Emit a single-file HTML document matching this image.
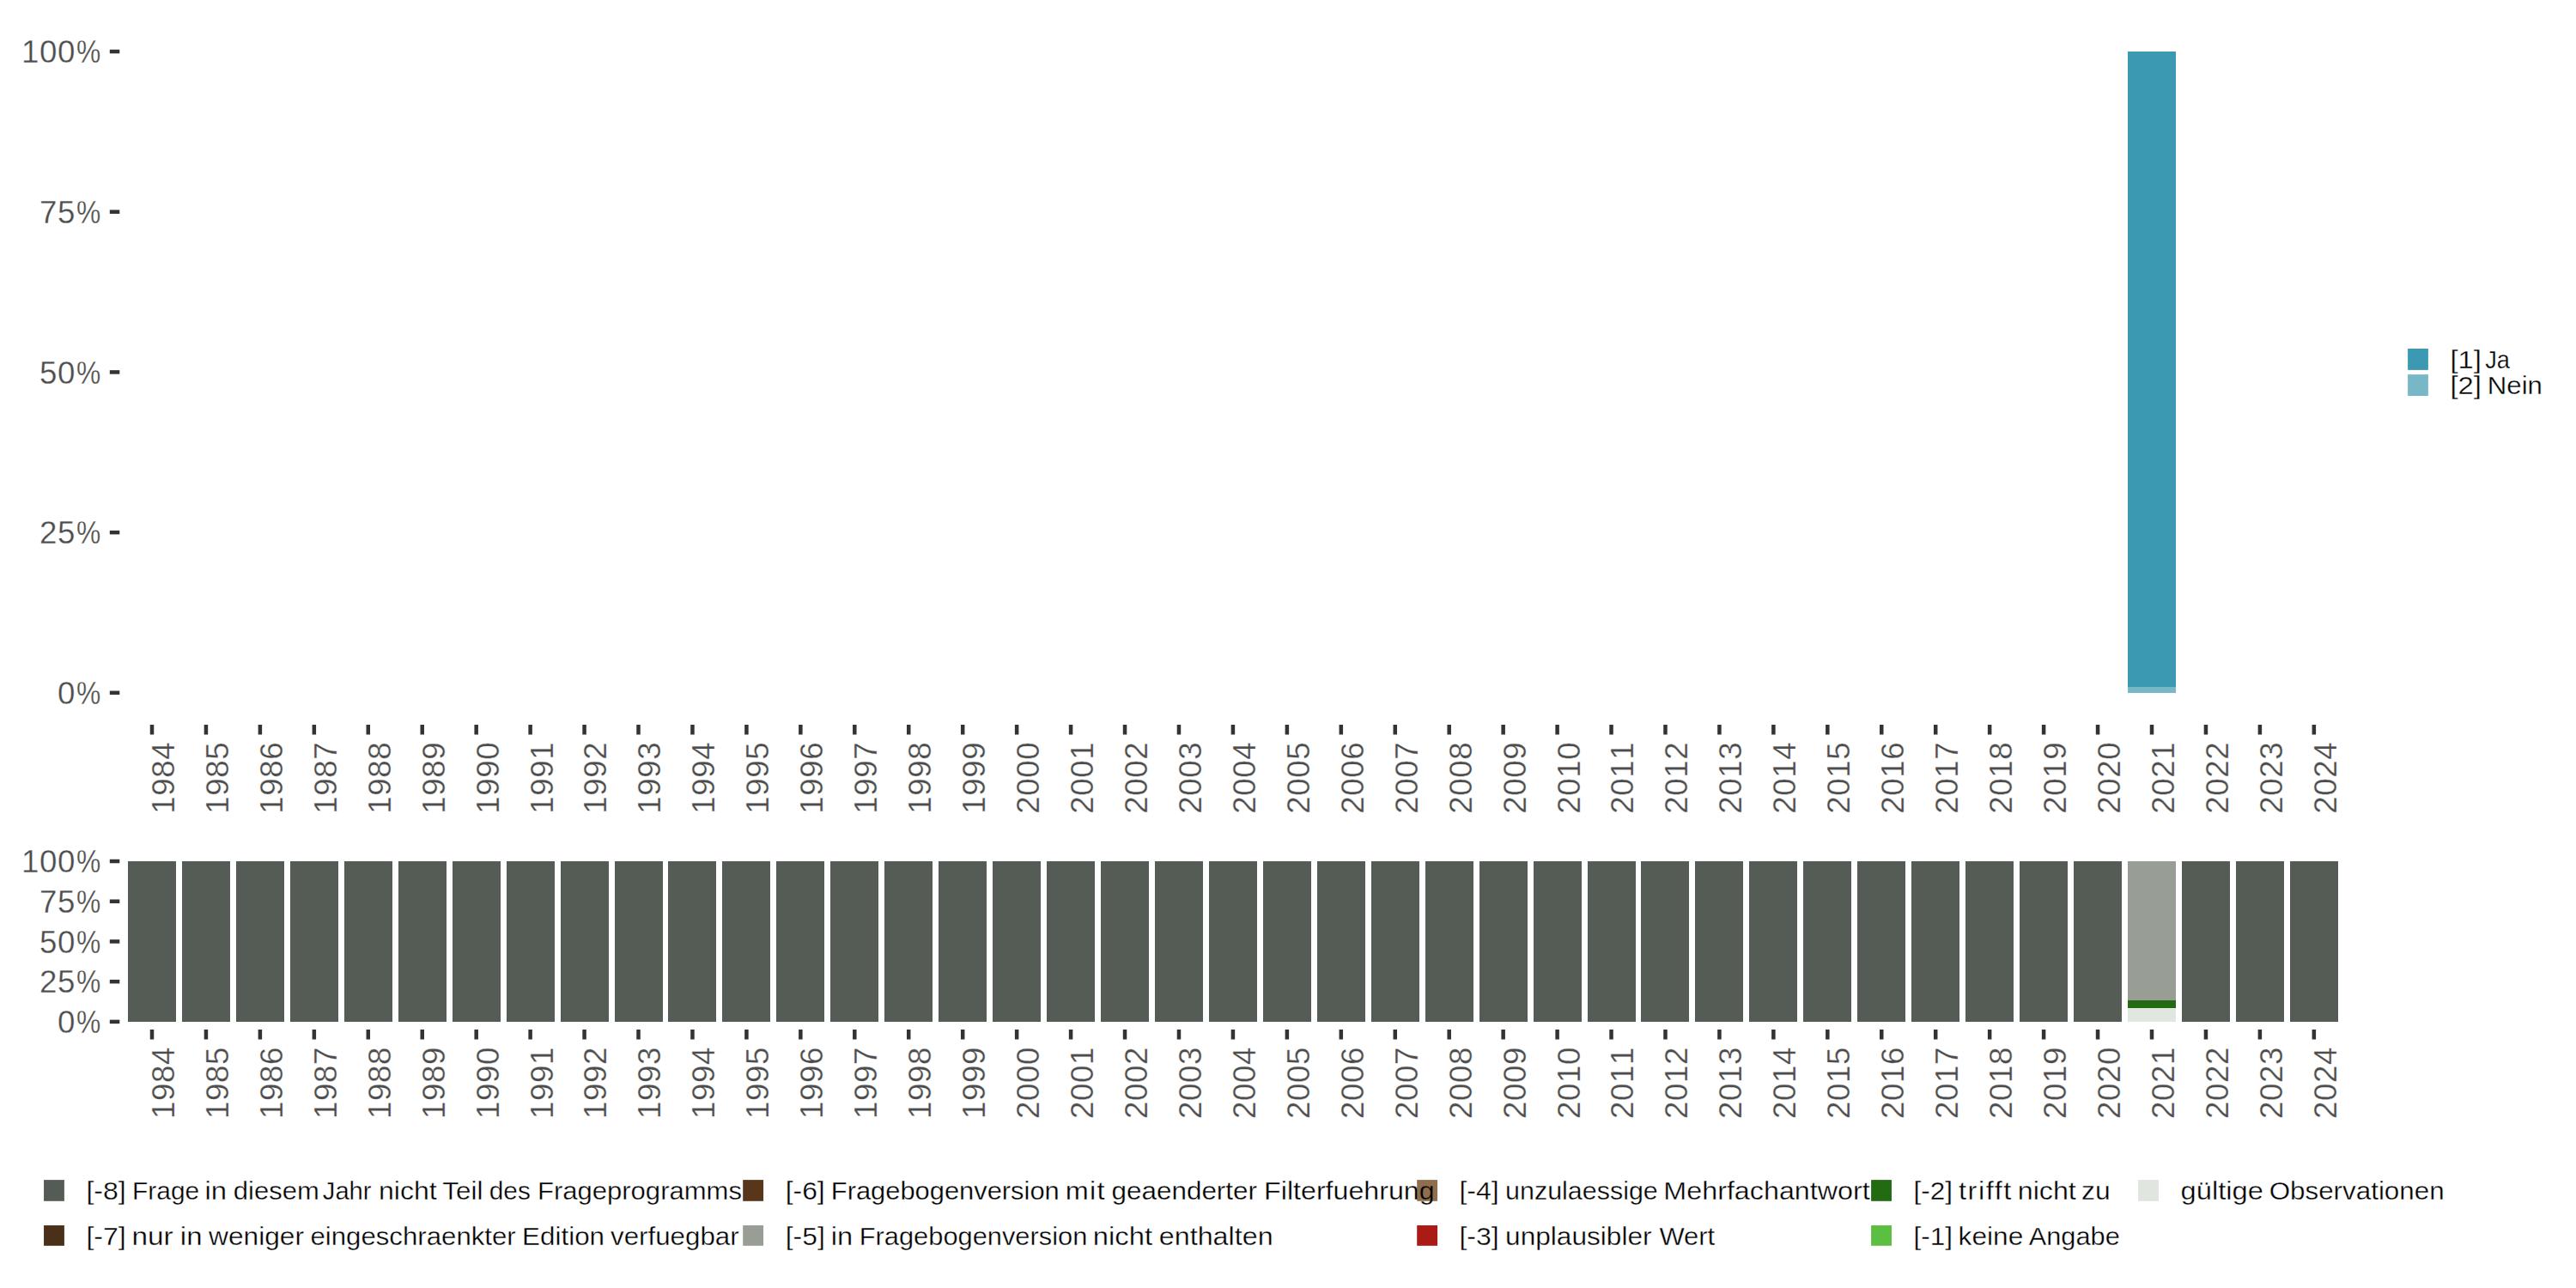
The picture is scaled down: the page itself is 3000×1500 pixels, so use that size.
<!DOCTYPE html>
<html lang="de">
<head>
<meta charset="utf-8">
<title>Chart</title>
<style>
html,body{margin:0;padding:0;background:#fff;}
body{width:3000px;height:1500px;overflow:hidden;}
svg{display:block;}
text{font-family:"Liberation Sans", sans-serif;}
.ax{font-size:36.67px;fill:#4D4D4D;stroke:#ffffff;stroke-width:0.3px;}
.lg{font-size:29.8px;fill:#000000;stroke:#ffffff;stroke-width:0.35px;}
</style>
</head>
<body>
<svg width="3000" height="1500" viewBox="0 0 3000 1500">
<rect x="0" y="0" width="3000" height="1500" fill="#ffffff"/>
<defs><pattern id="bgp" patternUnits="userSpaceOnUse" x="0" y="0" width="3000" height="1500"><rect x="0" y="0" width="3000" height="1500" fill="#ffffff"/><rect x="1650.2" y="1374.1" width="23.85" height="24.7" fill="#8F6E4D"/></pattern></defs>
<g id="top-bars" shape-rendering="crispEdges">
<rect x="2478.00" y="60.00" width="56.00" height="740.00" fill="#3B9AB2"/>
<rect x="2478.00" y="800.00" width="56.00" height="6.80" fill="#78B7C5"/>
</g>
<g id="top-yaxis">
<rect x="127.8" y="57.75" width="11.5" height="4.5" fill="#333333"/>
<text class="ax" y="73.10"><tspan x="25.06 46.04 67.02">100</tspan><tspan x="88.95" textLength="28.3" lengthAdjust="spacingAndGlyphs">%</tspan></text>
<rect x="127.8" y="244.45" width="11.5" height="4.5" fill="#333333"/>
<text class="ax" y="259.80"><tspan x="46.04 67.02">75</tspan><tspan x="88.95" textLength="28.3" lengthAdjust="spacingAndGlyphs">%</tspan></text>
<rect x="127.8" y="431.15" width="11.5" height="4.5" fill="#333333"/>
<text class="ax" y="446.50"><tspan x="46.04 67.02">50</tspan><tspan x="88.95" textLength="28.3" lengthAdjust="spacingAndGlyphs">%</tspan></text>
<rect x="127.8" y="617.85" width="11.5" height="4.5" fill="#333333"/>
<text class="ax" y="633.20"><tspan x="46.04 67.02">25</tspan><tspan x="88.95" textLength="28.3" lengthAdjust="spacingAndGlyphs">%</tspan></text>
<rect x="127.8" y="804.55" width="11.5" height="4.5" fill="#333333"/>
<text class="ax" y="819.90"><tspan x="67.02">0</tspan><tspan x="88.95" textLength="28.3" lengthAdjust="spacingAndGlyphs">%</tspan></text>
</g>
<g id="top-xaxis">
<rect x="174.75" y="844.00" width="4.5" height="11.5" fill="#333333"/>
<text class="ax" transform="translate(202.90,864.10) rotate(-90)" x="-83.62 -62.64 -41.66 -20.68">1984</text>
<rect x="237.70" y="844.00" width="4.5" height="11.5" fill="#333333"/>
<text class="ax" transform="translate(265.85,864.10) rotate(-90)" x="-83.62 -62.64 -41.66 -20.68">1985</text>
<rect x="300.64" y="844.00" width="4.5" height="11.5" fill="#333333"/>
<text class="ax" transform="translate(328.79,864.10) rotate(-90)" x="-83.62 -62.64 -41.66 -20.68">1986</text>
<rect x="363.59" y="844.00" width="4.5" height="11.5" fill="#333333"/>
<text class="ax" transform="translate(391.74,864.10) rotate(-90)" x="-83.62 -62.64 -41.66 -20.68">1987</text>
<rect x="426.53" y="844.00" width="4.5" height="11.5" fill="#333333"/>
<text class="ax" transform="translate(454.68,864.10) rotate(-90)" x="-83.62 -62.64 -41.66 -20.68">1988</text>
<rect x="489.48" y="844.00" width="4.5" height="11.5" fill="#333333"/>
<text class="ax" transform="translate(517.63,864.10) rotate(-90)" x="-83.62 -62.64 -41.66 -20.68">1989</text>
<rect x="552.43" y="844.00" width="4.5" height="11.5" fill="#333333"/>
<text class="ax" transform="translate(580.58,864.10) rotate(-90)" x="-83.62 -62.64 -41.66 -20.68">1990</text>
<rect x="615.37" y="844.00" width="4.5" height="11.5" fill="#333333"/>
<text class="ax" transform="translate(643.52,864.10) rotate(-90)" x="-83.62 -62.64 -41.66 -20.68">1991</text>
<rect x="678.32" y="844.00" width="4.5" height="11.5" fill="#333333"/>
<text class="ax" transform="translate(706.47,864.10) rotate(-90)" x="-83.62 -62.64 -41.66 -20.68">1992</text>
<rect x="741.26" y="844.00" width="4.5" height="11.5" fill="#333333"/>
<text class="ax" transform="translate(769.41,864.10) rotate(-90)" x="-83.62 -62.64 -41.66 -20.68">1993</text>
<rect x="804.21" y="844.00" width="4.5" height="11.5" fill="#333333"/>
<text class="ax" transform="translate(832.36,864.10) rotate(-90)" x="-83.62 -62.64 -41.66 -20.68">1994</text>
<rect x="867.16" y="844.00" width="4.5" height="11.5" fill="#333333"/>
<text class="ax" transform="translate(895.31,864.10) rotate(-90)" x="-83.62 -62.64 -41.66 -20.68">1995</text>
<rect x="930.10" y="844.00" width="4.5" height="11.5" fill="#333333"/>
<text class="ax" transform="translate(958.25,864.10) rotate(-90)" x="-83.62 -62.64 -41.66 -20.68">1996</text>
<rect x="993.05" y="844.00" width="4.5" height="11.5" fill="#333333"/>
<text class="ax" transform="translate(1021.20,864.10) rotate(-90)" x="-83.62 -62.64 -41.66 -20.68">1997</text>
<rect x="1055.99" y="844.00" width="4.5" height="11.5" fill="#333333"/>
<text class="ax" transform="translate(1084.14,864.10) rotate(-90)" x="-83.62 -62.64 -41.66 -20.68">1998</text>
<rect x="1118.94" y="844.00" width="4.5" height="11.5" fill="#333333"/>
<text class="ax" transform="translate(1147.09,864.10) rotate(-90)" x="-83.62 -62.64 -41.66 -20.68">1999</text>
<rect x="1181.89" y="844.00" width="4.5" height="11.5" fill="#333333"/>
<text class="ax" transform="translate(1210.04,864.10) rotate(-90)" x="-83.62 -62.64 -41.66 -20.68">2000</text>
<rect x="1244.83" y="844.00" width="4.5" height="11.5" fill="#333333"/>
<text class="ax" transform="translate(1272.98,864.10) rotate(-90)" x="-83.62 -62.64 -41.66 -20.68">2001</text>
<rect x="1307.78" y="844.00" width="4.5" height="11.5" fill="#333333"/>
<text class="ax" transform="translate(1335.93,864.10) rotate(-90)" x="-83.62 -62.64 -41.66 -20.68">2002</text>
<rect x="1370.72" y="844.00" width="4.5" height="11.5" fill="#333333"/>
<text class="ax" transform="translate(1398.87,864.10) rotate(-90)" x="-83.62 -62.64 -41.66 -20.68">2003</text>
<rect x="1433.67" y="844.00" width="4.5" height="11.5" fill="#333333"/>
<text class="ax" transform="translate(1461.82,864.10) rotate(-90)" x="-83.62 -62.64 -41.66 -20.68">2004</text>
<rect x="1496.62" y="844.00" width="4.5" height="11.5" fill="#333333"/>
<text class="ax" transform="translate(1524.77,864.10) rotate(-90)" x="-83.62 -62.64 -41.66 -20.68">2005</text>
<rect x="1559.56" y="844.00" width="4.5" height="11.5" fill="#333333"/>
<text class="ax" transform="translate(1587.71,864.10) rotate(-90)" x="-83.62 -62.64 -41.66 -20.68">2006</text>
<rect x="1622.51" y="844.00" width="4.5" height="11.5" fill="#333333"/>
<text class="ax" transform="translate(1650.66,864.10) rotate(-90)" x="-83.62 -62.64 -41.66 -20.68">2007</text>
<rect x="1685.45" y="844.00" width="4.5" height="11.5" fill="#333333"/>
<text class="ax" transform="translate(1713.60,864.10) rotate(-90)" x="-83.62 -62.64 -41.66 -20.68">2008</text>
<rect x="1748.40" y="844.00" width="4.5" height="11.5" fill="#333333"/>
<text class="ax" transform="translate(1776.55,864.10) rotate(-90)" x="-83.62 -62.64 -41.66 -20.68">2009</text>
<rect x="1811.35" y="844.00" width="4.5" height="11.5" fill="#333333"/>
<text class="ax" transform="translate(1839.50,864.10) rotate(-90)" x="-83.62 -62.64 -41.66 -20.68">2010</text>
<rect x="1874.29" y="844.00" width="4.5" height="11.5" fill="#333333"/>
<text class="ax" transform="translate(1902.44,864.10) rotate(-90)" x="-83.62 -62.64 -41.66 -20.68">2011</text>
<rect x="1937.24" y="844.00" width="4.5" height="11.5" fill="#333333"/>
<text class="ax" transform="translate(1965.39,864.10) rotate(-90)" x="-83.62 -62.64 -41.66 -20.68">2012</text>
<rect x="2000.18" y="844.00" width="4.5" height="11.5" fill="#333333"/>
<text class="ax" transform="translate(2028.33,864.10) rotate(-90)" x="-83.62 -62.64 -41.66 -20.68">2013</text>
<rect x="2063.13" y="844.00" width="4.5" height="11.5" fill="#333333"/>
<text class="ax" transform="translate(2091.28,864.10) rotate(-90)" x="-83.62 -62.64 -41.66 -20.68">2014</text>
<rect x="2126.08" y="844.00" width="4.5" height="11.5" fill="#333333"/>
<text class="ax" transform="translate(2154.23,864.10) rotate(-90)" x="-83.62 -62.64 -41.66 -20.68">2015</text>
<rect x="2189.02" y="844.00" width="4.5" height="11.5" fill="#333333"/>
<text class="ax" transform="translate(2217.17,864.10) rotate(-90)" x="-83.62 -62.64 -41.66 -20.68">2016</text>
<rect x="2251.97" y="844.00" width="4.5" height="11.5" fill="#333333"/>
<text class="ax" transform="translate(2280.12,864.10) rotate(-90)" x="-83.62 -62.64 -41.66 -20.68">2017</text>
<rect x="2314.91" y="844.00" width="4.5" height="11.5" fill="#333333"/>
<text class="ax" transform="translate(2343.06,864.10) rotate(-90)" x="-83.62 -62.64 -41.66 -20.68">2018</text>
<rect x="2377.86" y="844.00" width="4.5" height="11.5" fill="#333333"/>
<text class="ax" transform="translate(2406.01,864.10) rotate(-90)" x="-83.62 -62.64 -41.66 -20.68">2019</text>
<rect x="2440.81" y="844.00" width="4.5" height="11.5" fill="#333333"/>
<text class="ax" transform="translate(2468.96,864.10) rotate(-90)" x="-83.62 -62.64 -41.66 -20.68">2020</text>
<rect x="2503.75" y="844.00" width="4.5" height="11.5" fill="#333333"/>
<text class="ax" transform="translate(2531.90,864.10) rotate(-90)" x="-83.62 -62.64 -41.66 -20.68">2021</text>
<rect x="2566.70" y="844.00" width="4.5" height="11.5" fill="#333333"/>
<text class="ax" transform="translate(2594.85,864.10) rotate(-90)" x="-83.62 -62.64 -41.66 -20.68">2022</text>
<rect x="2629.64" y="844.00" width="4.5" height="11.5" fill="#333333"/>
<text class="ax" transform="translate(2657.79,864.10) rotate(-90)" x="-83.62 -62.64 -41.66 -20.68">2023</text>
<rect x="2692.59" y="844.00" width="4.5" height="11.5" fill="#333333"/>
<text class="ax" transform="translate(2720.74,864.10) rotate(-90)" x="-83.62 -62.64 -41.66 -20.68">2024</text>
</g>
<g id="bottom-bars" shape-rendering="crispEdges">
<rect x="149.00" y="1003.00" width="56.00" height="186.90" fill="#555B55"/>
<rect x="211.95" y="1003.00" width="56.00" height="186.90" fill="#555B55"/>
<rect x="274.89" y="1003.00" width="56.00" height="186.90" fill="#555B55"/>
<rect x="337.84" y="1003.00" width="56.00" height="186.90" fill="#555B55"/>
<rect x="400.78" y="1003.00" width="56.00" height="186.90" fill="#555B55"/>
<rect x="463.73" y="1003.00" width="56.00" height="186.90" fill="#555B55"/>
<rect x="526.68" y="1003.00" width="56.00" height="186.90" fill="#555B55"/>
<rect x="589.62" y="1003.00" width="56.00" height="186.90" fill="#555B55"/>
<rect x="652.57" y="1003.00" width="56.00" height="186.90" fill="#555B55"/>
<rect x="715.51" y="1003.00" width="56.00" height="186.90" fill="#555B55"/>
<rect x="778.46" y="1003.00" width="56.00" height="186.90" fill="#555B55"/>
<rect x="841.41" y="1003.00" width="56.00" height="186.90" fill="#555B55"/>
<rect x="904.35" y="1003.00" width="56.00" height="186.90" fill="#555B55"/>
<rect x="967.30" y="1003.00" width="56.00" height="186.90" fill="#555B55"/>
<rect x="1030.24" y="1003.00" width="56.00" height="186.90" fill="#555B55"/>
<rect x="1093.19" y="1003.00" width="56.00" height="186.90" fill="#555B55"/>
<rect x="1156.14" y="1003.00" width="56.00" height="186.90" fill="#555B55"/>
<rect x="1219.08" y="1003.00" width="56.00" height="186.90" fill="#555B55"/>
<rect x="1282.03" y="1003.00" width="56.00" height="186.90" fill="#555B55"/>
<rect x="1344.97" y="1003.00" width="56.00" height="186.90" fill="#555B55"/>
<rect x="1407.92" y="1003.00" width="56.00" height="186.90" fill="#555B55"/>
<rect x="1470.87" y="1003.00" width="56.00" height="186.90" fill="#555B55"/>
<rect x="1533.81" y="1003.00" width="56.00" height="186.90" fill="#555B55"/>
<rect x="1596.76" y="1003.00" width="56.00" height="186.90" fill="#555B55"/>
<rect x="1659.70" y="1003.00" width="56.00" height="186.90" fill="#555B55"/>
<rect x="1722.65" y="1003.00" width="56.00" height="186.90" fill="#555B55"/>
<rect x="1785.60" y="1003.00" width="56.00" height="186.90" fill="#555B55"/>
<rect x="1848.54" y="1003.00" width="56.00" height="186.90" fill="#555B55"/>
<rect x="1911.49" y="1003.00" width="56.00" height="186.90" fill="#555B55"/>
<rect x="1974.43" y="1003.00" width="56.00" height="186.90" fill="#555B55"/>
<rect x="2037.38" y="1003.00" width="56.00" height="186.90" fill="#555B55"/>
<rect x="2100.33" y="1003.00" width="56.00" height="186.90" fill="#555B55"/>
<rect x="2163.27" y="1003.00" width="56.00" height="186.90" fill="#555B55"/>
<rect x="2226.22" y="1003.00" width="56.00" height="186.90" fill="#555B55"/>
<rect x="2289.16" y="1003.00" width="56.00" height="186.90" fill="#555B55"/>
<rect x="2352.11" y="1003.00" width="56.00" height="186.90" fill="#555B55"/>
<rect x="2415.06" y="1003.00" width="56.00" height="186.90" fill="#555B55"/>
<rect x="2478.00" y="1003.00" width="56.00" height="162.00" fill="#989D96"/>
<rect x="2478.00" y="1165.00" width="56.00" height="8.90" fill="#226B12"/>
<rect x="2478.00" y="1173.90" width="56.00" height="16.00" fill="#E2E6E1"/>
<rect x="2540.95" y="1003.00" width="56.00" height="186.90" fill="#555B55"/>
<rect x="2603.89" y="1003.00" width="56.00" height="186.90" fill="#555B55"/>
<rect x="2666.84" y="1003.00" width="56.00" height="186.90" fill="#555B55"/>
</g>
<g id="bottom-yaxis">
<rect x="127.8" y="1000.75" width="11.5" height="4.5" fill="#333333"/>
<text class="ax" y="1016.10"><tspan x="25.06 46.04 67.02">100</tspan><tspan x="88.95" textLength="28.3" lengthAdjust="spacingAndGlyphs">%</tspan></text>
<rect x="127.8" y="1047.47" width="11.5" height="4.5" fill="#333333"/>
<text class="ax" y="1062.82"><tspan x="46.04 67.02">75</tspan><tspan x="88.95" textLength="28.3" lengthAdjust="spacingAndGlyphs">%</tspan></text>
<rect x="127.8" y="1094.20" width="11.5" height="4.5" fill="#333333"/>
<text class="ax" y="1109.55"><tspan x="46.04 67.02">50</tspan><tspan x="88.95" textLength="28.3" lengthAdjust="spacingAndGlyphs">%</tspan></text>
<rect x="127.8" y="1140.93" width="11.5" height="4.5" fill="#333333"/>
<text class="ax" y="1156.28"><tspan x="46.04 67.02">25</tspan><tspan x="88.95" textLength="28.3" lengthAdjust="spacingAndGlyphs">%</tspan></text>
<rect x="127.8" y="1187.65" width="11.5" height="4.5" fill="#333333"/>
<text class="ax" y="1203.00"><tspan x="67.02">0</tspan><tspan x="88.95" textLength="28.3" lengthAdjust="spacingAndGlyphs">%</tspan></text>
</g>
<g id="bottom-xaxis">
<rect x="174.75" y="1199.00" width="4.5" height="11.5" fill="#333333"/>
<text class="ax" transform="translate(202.90,1219.40) rotate(-90)" x="-83.62 -62.64 -41.66 -20.68">1984</text>
<rect x="237.70" y="1199.00" width="4.5" height="11.5" fill="#333333"/>
<text class="ax" transform="translate(265.85,1219.40) rotate(-90)" x="-83.62 -62.64 -41.66 -20.68">1985</text>
<rect x="300.64" y="1199.00" width="4.5" height="11.5" fill="#333333"/>
<text class="ax" transform="translate(328.79,1219.40) rotate(-90)" x="-83.62 -62.64 -41.66 -20.68">1986</text>
<rect x="363.59" y="1199.00" width="4.5" height="11.5" fill="#333333"/>
<text class="ax" transform="translate(391.74,1219.40) rotate(-90)" x="-83.62 -62.64 -41.66 -20.68">1987</text>
<rect x="426.53" y="1199.00" width="4.5" height="11.5" fill="#333333"/>
<text class="ax" transform="translate(454.68,1219.40) rotate(-90)" x="-83.62 -62.64 -41.66 -20.68">1988</text>
<rect x="489.48" y="1199.00" width="4.5" height="11.5" fill="#333333"/>
<text class="ax" transform="translate(517.63,1219.40) rotate(-90)" x="-83.62 -62.64 -41.66 -20.68">1989</text>
<rect x="552.43" y="1199.00" width="4.5" height="11.5" fill="#333333"/>
<text class="ax" transform="translate(580.58,1219.40) rotate(-90)" x="-83.62 -62.64 -41.66 -20.68">1990</text>
<rect x="615.37" y="1199.00" width="4.5" height="11.5" fill="#333333"/>
<text class="ax" transform="translate(643.52,1219.40) rotate(-90)" x="-83.62 -62.64 -41.66 -20.68">1991</text>
<rect x="678.32" y="1199.00" width="4.5" height="11.5" fill="#333333"/>
<text class="ax" transform="translate(706.47,1219.40) rotate(-90)" x="-83.62 -62.64 -41.66 -20.68">1992</text>
<rect x="741.26" y="1199.00" width="4.5" height="11.5" fill="#333333"/>
<text class="ax" transform="translate(769.41,1219.40) rotate(-90)" x="-83.62 -62.64 -41.66 -20.68">1993</text>
<rect x="804.21" y="1199.00" width="4.5" height="11.5" fill="#333333"/>
<text class="ax" transform="translate(832.36,1219.40) rotate(-90)" x="-83.62 -62.64 -41.66 -20.68">1994</text>
<rect x="867.16" y="1199.00" width="4.5" height="11.5" fill="#333333"/>
<text class="ax" transform="translate(895.31,1219.40) rotate(-90)" x="-83.62 -62.64 -41.66 -20.68">1995</text>
<rect x="930.10" y="1199.00" width="4.5" height="11.5" fill="#333333"/>
<text class="ax" transform="translate(958.25,1219.40) rotate(-90)" x="-83.62 -62.64 -41.66 -20.68">1996</text>
<rect x="993.05" y="1199.00" width="4.5" height="11.5" fill="#333333"/>
<text class="ax" transform="translate(1021.20,1219.40) rotate(-90)" x="-83.62 -62.64 -41.66 -20.68">1997</text>
<rect x="1055.99" y="1199.00" width="4.5" height="11.5" fill="#333333"/>
<text class="ax" transform="translate(1084.14,1219.40) rotate(-90)" x="-83.62 -62.64 -41.66 -20.68">1998</text>
<rect x="1118.94" y="1199.00" width="4.5" height="11.5" fill="#333333"/>
<text class="ax" transform="translate(1147.09,1219.40) rotate(-90)" x="-83.62 -62.64 -41.66 -20.68">1999</text>
<rect x="1181.89" y="1199.00" width="4.5" height="11.5" fill="#333333"/>
<text class="ax" transform="translate(1210.04,1219.40) rotate(-90)" x="-83.62 -62.64 -41.66 -20.68">2000</text>
<rect x="1244.83" y="1199.00" width="4.5" height="11.5" fill="#333333"/>
<text class="ax" transform="translate(1272.98,1219.40) rotate(-90)" x="-83.62 -62.64 -41.66 -20.68">2001</text>
<rect x="1307.78" y="1199.00" width="4.5" height="11.5" fill="#333333"/>
<text class="ax" transform="translate(1335.93,1219.40) rotate(-90)" x="-83.62 -62.64 -41.66 -20.68">2002</text>
<rect x="1370.72" y="1199.00" width="4.5" height="11.5" fill="#333333"/>
<text class="ax" transform="translate(1398.87,1219.40) rotate(-90)" x="-83.62 -62.64 -41.66 -20.68">2003</text>
<rect x="1433.67" y="1199.00" width="4.5" height="11.5" fill="#333333"/>
<text class="ax" transform="translate(1461.82,1219.40) rotate(-90)" x="-83.62 -62.64 -41.66 -20.68">2004</text>
<rect x="1496.62" y="1199.00" width="4.5" height="11.5" fill="#333333"/>
<text class="ax" transform="translate(1524.77,1219.40) rotate(-90)" x="-83.62 -62.64 -41.66 -20.68">2005</text>
<rect x="1559.56" y="1199.00" width="4.5" height="11.5" fill="#333333"/>
<text class="ax" transform="translate(1587.71,1219.40) rotate(-90)" x="-83.62 -62.64 -41.66 -20.68">2006</text>
<rect x="1622.51" y="1199.00" width="4.5" height="11.5" fill="#333333"/>
<text class="ax" transform="translate(1650.66,1219.40) rotate(-90)" x="-83.62 -62.64 -41.66 -20.68">2007</text>
<rect x="1685.45" y="1199.00" width="4.5" height="11.5" fill="#333333"/>
<text class="ax" transform="translate(1713.60,1219.40) rotate(-90)" x="-83.62 -62.64 -41.66 -20.68">2008</text>
<rect x="1748.40" y="1199.00" width="4.5" height="11.5" fill="#333333"/>
<text class="ax" transform="translate(1776.55,1219.40) rotate(-90)" x="-83.62 -62.64 -41.66 -20.68">2009</text>
<rect x="1811.35" y="1199.00" width="4.5" height="11.5" fill="#333333"/>
<text class="ax" transform="translate(1839.50,1219.40) rotate(-90)" x="-83.62 -62.64 -41.66 -20.68">2010</text>
<rect x="1874.29" y="1199.00" width="4.5" height="11.5" fill="#333333"/>
<text class="ax" transform="translate(1902.44,1219.40) rotate(-90)" x="-83.62 -62.64 -41.66 -20.68">2011</text>
<rect x="1937.24" y="1199.00" width="4.5" height="11.5" fill="#333333"/>
<text class="ax" transform="translate(1965.39,1219.40) rotate(-90)" x="-83.62 -62.64 -41.66 -20.68">2012</text>
<rect x="2000.18" y="1199.00" width="4.5" height="11.5" fill="#333333"/>
<text class="ax" transform="translate(2028.33,1219.40) rotate(-90)" x="-83.62 -62.64 -41.66 -20.68">2013</text>
<rect x="2063.13" y="1199.00" width="4.5" height="11.5" fill="#333333"/>
<text class="ax" transform="translate(2091.28,1219.40) rotate(-90)" x="-83.62 -62.64 -41.66 -20.68">2014</text>
<rect x="2126.08" y="1199.00" width="4.5" height="11.5" fill="#333333"/>
<text class="ax" transform="translate(2154.23,1219.40) rotate(-90)" x="-83.62 -62.64 -41.66 -20.68">2015</text>
<rect x="2189.02" y="1199.00" width="4.5" height="11.5" fill="#333333"/>
<text class="ax" transform="translate(2217.17,1219.40) rotate(-90)" x="-83.62 -62.64 -41.66 -20.68">2016</text>
<rect x="2251.97" y="1199.00" width="4.5" height="11.5" fill="#333333"/>
<text class="ax" transform="translate(2280.12,1219.40) rotate(-90)" x="-83.62 -62.64 -41.66 -20.68">2017</text>
<rect x="2314.91" y="1199.00" width="4.5" height="11.5" fill="#333333"/>
<text class="ax" transform="translate(2343.06,1219.40) rotate(-90)" x="-83.62 -62.64 -41.66 -20.68">2018</text>
<rect x="2377.86" y="1199.00" width="4.5" height="11.5" fill="#333333"/>
<text class="ax" transform="translate(2406.01,1219.40) rotate(-90)" x="-83.62 -62.64 -41.66 -20.68">2019</text>
<rect x="2440.81" y="1199.00" width="4.5" height="11.5" fill="#333333"/>
<text class="ax" transform="translate(2468.96,1219.40) rotate(-90)" x="-83.62 -62.64 -41.66 -20.68">2020</text>
<rect x="2503.75" y="1199.00" width="4.5" height="11.5" fill="#333333"/>
<text class="ax" transform="translate(2531.90,1219.40) rotate(-90)" x="-83.62 -62.64 -41.66 -20.68">2021</text>
<rect x="2566.70" y="1199.00" width="4.5" height="11.5" fill="#333333"/>
<text class="ax" transform="translate(2594.85,1219.40) rotate(-90)" x="-83.62 -62.64 -41.66 -20.68">2022</text>
<rect x="2629.64" y="1199.00" width="4.5" height="11.5" fill="#333333"/>
<text class="ax" transform="translate(2657.79,1219.40) rotate(-90)" x="-83.62 -62.64 -41.66 -20.68">2023</text>
<rect x="2692.59" y="1199.00" width="4.5" height="11.5" fill="#333333"/>
<text class="ax" transform="translate(2720.74,1219.40) rotate(-90)" x="-83.62 -62.64 -41.66 -20.68">2024</text>
</g>
<g id="legend-right">
<rect x="2804.1" y="406.0" width="23.8" height="24.9" fill="#3B9AB2"/>
<rect x="2804.1" y="436.1" width="23.8" height="24.9" fill="#78B7C5"/>
<text class="lg" y="428.7"><tspan x="2853.48" textLength="36.46" lengthAdjust="spacingAndGlyphs">[1]</tspan> <tspan x="2894.13" textLength="28.71" lengthAdjust="spacingAndGlyphs">Ja</tspan></text>
<text class="lg" y="459.0"><tspan x="2853.48" textLength="36.46" lengthAdjust="spacingAndGlyphs">[2]</tspan> <tspan x="2896.78" textLength="64.18" lengthAdjust="spacingAndGlyphs">Nein</tspan></text>
</g>
<g id="legend-bottom">
<rect x="51.05" y="1374.10" width="23.85" height="24.70" fill="#555B55"/>
<rect x="51.05" y="1427.05" width="23.85" height="23.75" fill="#4A2F19"/>
<rect x="865.20" y="1374.10" width="23.85" height="24.70" fill="#573619"/>
<rect x="865.20" y="1427.05" width="23.85" height="23.75" fill="#989D96"/>
<rect x="1650.20" y="1374.10" width="23.85" height="24.70" fill="#8F6E4D"/>
<rect x="1650.20" y="1427.05" width="23.85" height="23.75" fill="#A91B14"/>
<rect x="2179.10" y="1374.10" width="23.85" height="24.70" fill="#226B12"/>
<rect x="2179.10" y="1427.05" width="23.85" height="23.75" fill="#5BBF42"/>
<rect x="2490.10" y="1374.10" width="23.85" height="24.70" fill="#E0E5E0"/>
<text class="lg" y="1397.0"><tspan x="100.46" textLength="46.33" lengthAdjust="spacingAndGlyphs">[-8]</tspan> <tspan x="154.12" textLength="78.09" lengthAdjust="spacingAndGlyphs">Frage</tspan> <tspan x="238.43" textLength="25.61" lengthAdjust="spacingAndGlyphs">in</tspan> <tspan x="271.84" textLength="100.02" lengthAdjust="spacingAndGlyphs">diesem</tspan> <tspan x="375.79" textLength="56.80" lengthAdjust="spacingAndGlyphs">Jahr</tspan> <tspan x="440.96" textLength="67.74" lengthAdjust="spacingAndGlyphs">nicht</tspan> <tspan x="515.39" textLength="47.04" lengthAdjust="spacingAndGlyphs">Teil</tspan> <tspan x="569.73" textLength="48.08" lengthAdjust="spacingAndGlyphs">des</tspan> <tspan x="625.94" textLength="238.01" lengthAdjust="spacingAndGlyphs">Frageprogramms</tspan></text>
<text class="lg" y="1449.9"><tspan x="100.46" textLength="46.33" lengthAdjust="spacingAndGlyphs">[-7]</tspan> <tspan x="153.49" textLength="48.26" lengthAdjust="spacingAndGlyphs">nur</tspan> <tspan x="209.87" textLength="25.67" lengthAdjust="spacingAndGlyphs">in</tspan> <tspan x="243.09" textLength="110.95" lengthAdjust="spacingAndGlyphs">weniger</tspan> <tspan x="361.46" textLength="239.27" lengthAdjust="spacingAndGlyphs">eingeschraenkter</tspan> <tspan x="608.13" textLength="95.93" lengthAdjust="spacingAndGlyphs">Edition</tspan> <tspan x="711.10" textLength="149.49" lengthAdjust="spacingAndGlyphs">verfuegbar</tspan></text>
<text class="lg" style="stroke:url(#bgp)" y="1397.0"><tspan x="914.81" textLength="45.89" lengthAdjust="spacingAndGlyphs">[-6]</tspan> <tspan x="967.81" textLength="265.92" lengthAdjust="spacingAndGlyphs">Fragebogenversion</tspan> <tspan x="1240.87" textLength="46.83" lengthAdjust="spacingAndGlyphs" style="letter-spacing:1.1px">mit</tspan> <tspan x="1294.50" textLength="169.51" lengthAdjust="spacingAndGlyphs">geaenderter</tspan> <tspan x="1472.12" textLength="198.48" lengthAdjust="spacingAndGlyphs">Filterfuehrung</tspan></text>
<text class="lg" y="1449.9"><tspan x="914.81" textLength="45.92" lengthAdjust="spacingAndGlyphs">[-5]</tspan> <tspan x="967.82" textLength="25.38" lengthAdjust="spacingAndGlyphs">in</tspan> <tspan x="1000.76" textLength="265.53" lengthAdjust="spacingAndGlyphs">Fragebogenversion</tspan> <tspan x="1272.88" textLength="69.20" lengthAdjust="spacingAndGlyphs">nicht</tspan> <tspan x="1349.81" textLength="132.83" lengthAdjust="spacingAndGlyphs">enthalten</tspan></text>
<text class="lg" y="1397.0"><tspan x="1699.46" textLength="46.33" lengthAdjust="spacingAndGlyphs">[-4]</tspan> <tspan x="1753.05" textLength="177.73" lengthAdjust="spacingAndGlyphs">unzulaessige</tspan> <tspan x="1937.35" textLength="240.41" lengthAdjust="spacingAndGlyphs">Mehrfachantwort</tspan></text>
<text class="lg" y="1449.9"><tspan x="1699.46" textLength="46.33" lengthAdjust="spacingAndGlyphs">[-3]</tspan> <tspan x="1753.11" textLength="170.47" lengthAdjust="spacingAndGlyphs">unplausibler</tspan> <tspan x="1932.40" textLength="64.80" lengthAdjust="spacingAndGlyphs">Wert</tspan></text>
<text class="lg" y="1397.0"><tspan x="2228.47" textLength="45.52" lengthAdjust="spacingAndGlyphs">[-2]</tspan> <tspan x="2280.99" textLength="62.83" lengthAdjust="spacingAndGlyphs" style="letter-spacing:1.4px">trifft</tspan> <tspan x="2349.74" textLength="68.06" lengthAdjust="spacingAndGlyphs">nicht</tspan> <tspan x="2424.07" textLength="33.68" lengthAdjust="spacingAndGlyphs">zu</tspan></text>
<text class="lg" y="1449.9"><tspan x="2228.47" textLength="45.52" lengthAdjust="spacingAndGlyphs">[-1]</tspan> <tspan x="2280.56" textLength="75.70" lengthAdjust="spacingAndGlyphs">keine</tspan> <tspan x="2362.72" textLength="106.03" lengthAdjust="spacingAndGlyphs">Angabe</tspan></text>
<text class="lg" y="1397.0"><tspan x="2539.64" textLength="96.22" lengthAdjust="spacingAndGlyphs">gültige</tspan> <tspan x="2642.68" textLength="203.94" lengthAdjust="spacingAndGlyphs">Observationen</tspan></text>
</g>
</svg>
</body>
</html>
